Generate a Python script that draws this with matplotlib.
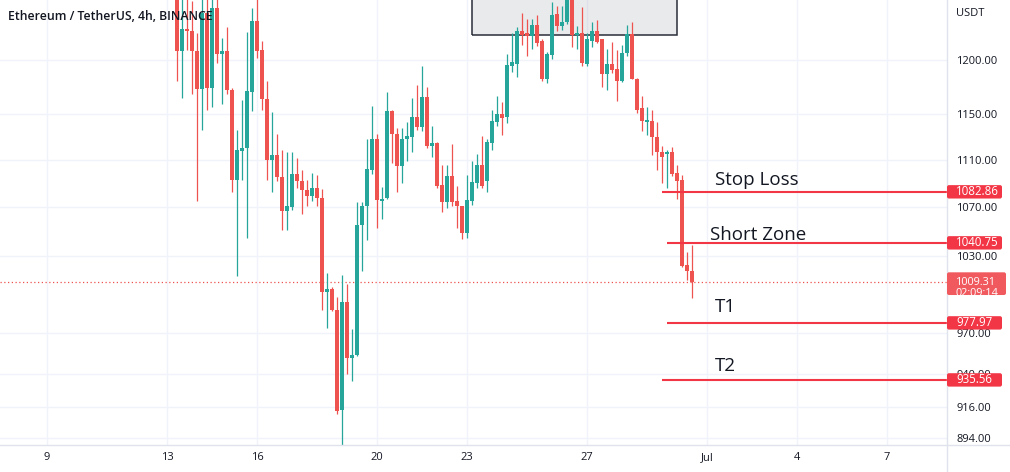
import matplotlib
import matplotlib.pyplot as plt
import matplotlib.patches as mpatches
from matplotlib.lines import Line2D
from matplotlib.ticker import NullLocator, NullFormatter
import numpy as np

# Use a non-GUI backend, we only save a png
matplotlib.use("agg")

# ETH/USDT 4h candles from Binance, first candle opens June 13 08:00
first_candle_day = 13 + 8 / 24
opens = [1268, 1208, 1229, 1227, 1208, 1173, 1244, 1174, 1249, 1205,
         1208, 1172, 1093, 1118, 1120, 1170, 1237, 1209, 1164, 1110,
         1114, 1095, 1067, 1070, 1098, 1092, 1084, 1079, 1086, 1078,
         1002, 1004, 988, 914, 994, 952, 954, 1055, 1071, 1101,
         1128, 1075, 1078, 1153, 1133, 1105, 1128, 1130, 1148, 1139,
         1166, 1122, 1125, 1089, 1074, 1096, 1075, 1071, 1049, 1075,
         1090, 1106, 1092, 1125, 1143, 1150, 1148, 1194, 1196, 1227,
         1225, 1222, 1233, 1218, 1182, 1204, 1243, 1232, 1236, 1262,
         1223, 1225, 1196, 1218, 1227, 1219, 1187, 1196, 1191, 1180,
         1206, 1224, 1182, 1156, 1143, 1144, 1130, 1117, 1115, 1117,
         1099, 1093, 1023, 1018]
highs = [1290, 1262, 1258, 1256, 1225, 1258, 1258, 1259, 1260, 1220,
         1231, 1174, 1136, 1163, 1226, 1249, 1262, 1218, 1180, 1152,
         1133, 1119, 1117, 1117, 1112, 1101, 1093, 1099, 1097, 1085,
         1017, 1006, 998, 1015, 1008, 973, 1074, 1074, 1128, 1158,
         1133, 1087, 1170, 1154, 1138, 1138, 1143, 1165, 1177, 1194,
         1175, 1140, 1126, 1106, 1106, 1124, 1088, 1071, 1097, 1109,
         1115, 1131, 1128, 1154, 1167, 1161, 1205, 1225, 1231, 1244,
         1239, 1239, 1242, 1219, 1207, 1255, 1251, 1251, 1280, 1272,
         1232, 1250, 1225, 1236, 1238, 1219, 1210, 1217, 1209, 1214,
         1233, 1236, 1183, 1167, 1157, 1154, 1143, 1122, 1119, 1121,
         1106, 1097, 1033, 1039]
lows = [1180, 1165, 1209, 1168, 1075, 1136, 1154, 1157, 1197, 1159,
        1168, 1083, 1014, 1093, 1045, 1153, 1202, 1154, 1093, 1083,
        1092, 1051, 1051, 1068, 1086, 1064, 1071, 1075, 1071, 988,
        974, 987, 911, 881, 940, 935, 953, 1018, 1043, 1098,
        1053, 1060, 1077, 1107, 1083, 1090, 1109, 1117, 1136, 1135,
        1120, 1113, 1086, 1066, 1069, 1071, 1053, 1044, 1045, 1072,
        1086, 1086, 1083, 1119, 1140, 1132, 1142, 1189, 1184, 1214,
        1203, 1210, 1213, 1180, 1178, 1201, 1227, 1228, 1234, 1212,
        1210, 1194, 1194, 1212, 1216, 1175, 1172, 1188, 1162, 1179,
        1203, 1182, 1151, 1135, 1132, 1114, 1101, 1090, 1086, 1096,
        1077, 1021, 1011, 997]
closes = [1208, 1229, 1227, 1208, 1173, 1244, 1174, 1249, 1205, 1208,
          1172, 1093, 1119, 1120, 1171, 1237, 1208, 1164, 1110, 1114,
          1095, 1067, 1071, 1098, 1092, 1084, 1079, 1086, 1078, 1002,
          1004, 988, 913, 994, 952, 954, 1055, 1071, 1102, 1128,
          1076, 1077, 1153, 1133, 1105, 1128, 1131, 1148, 1139, 1166,
          1122, 1125, 1088, 1074, 1096, 1074, 1071, 1049, 1076, 1091,
          1106, 1088, 1126, 1144, 1150, 1147, 1195, 1198, 1227, 1223,
          1222, 1233, 1216, 1182, 1205, 1242, 1232, 1236, 1262, 1223,
          1225, 1197, 1219, 1227, 1217, 1187, 1196, 1190, 1180, 1206,
          1224, 1182, 1154, 1144, 1145, 1130, 1117, 1113, 1117, 1098,
          1092, 1022, 1018, 1009.31]

countdown = "02:09:14"

# drawn levels
levels = [1082.86, 1040.75, 977.97, 935.56]
level_names = ["Stop Loss", "Short Zone", "T1", "T2"]
level_starts = [29.5, 29.667, 29.667, 29.5]
label_days = [31.27, 31.1, 31.27, 31.27]
label_lift = [5, 2, 8, 6.3]  # points above the line

# grey box on the top
box_days = (23.1667, 30.0)
box_bottom = 1223.7

price_ticks = [1200, 1150, 1110, 1070, 1030, 970, 940, 916, 894]
day_ticks = [9, 13, 16, 20, 23, 27, 31, 34, 37]
day_labels = ["9", "13", "16", "20", "23", "27", "Jul", "4", "7"]

GREEN = "#26a69a"
RED = "#ef5350"
LINE_RED = "#f23645"
TEXT = "#131722"
FONT = ["Open Sans", "DejaVu Sans"]

plt.rcParams["font.family"] = FONT

W, H = 1010, 472
fig = plt.figure(figsize=(W / 100, H / 100), dpi=100)
fig.patch.set_facecolor("white")
ax = fig.add_axes([0, 27 / H, 947 / W, 445 / H])

ax.set_yscale("log")
ax.set_ylim(889.4, 1257)
ax.set_xlim(7.433, 39.0)

# candles
o = np.array(opens, dtype=float)
c = np.array(closes, dtype=float)
x = first_candle_day + np.arange(len(o)) / 6
colors = np.where(c >= o, GREEN, RED)
ax.vlines(x, lows, highs, colors=colors, lw=0.9, zorder=3)
ax.bar(x, np.maximum(np.abs(c - o), 1.2), bottom=np.minimum(o, c), width=0.12,
       color=colors, linewidth=0, zorder=4)

# rectangle drawing
ax.add_patch(mpatches.Rectangle((box_days[0], box_bottom), box_days[1] - box_days[0],
                                1400 - box_bottom, fc="#9598a1", alpha=0.2, ec="none", zorder=1))
ax.add_patch(mpatches.Rectangle((box_days[0], box_bottom), box_days[1] - box_days[0],
                                1400 - box_bottom, fill=False, ec="#2a2e39", lw=1.1, zorder=2))

# current price dotted line
ax.axhline(closes[-1], color=RED, lw=0.9, ls=(0, (1, 2)), zorder=2)

# level lines and labels
for lvl, name, start, lx, lift in zip(levels, level_names, level_starts, label_days, label_lift):
    ax.hlines(lvl, start, 39.0, color=LINE_RED, lw=1.5, zorder=5)
    ax.annotate(name, xy=(lx, lvl), xytext=(0, lift), textcoords="offset points",
                va="baseline", ha="left", fontsize=13.5, color=TEXT, zorder=6)

# axes look
for s in ax.spines.values():
    s.set_visible(False)
ax.set_axisbelow(True)
ax.grid(color="#f0f3fa", lw=1)
ax.yaxis.tick_right()
ax.set_yticks(price_ticks)
ax.set_yticklabels([f"{t:.2f}" for t in price_ticks])
ax.yaxis.set_minor_locator(NullLocator())
ax.yaxis.set_minor_formatter(NullFormatter())
ax.set_xticks(day_ticks)
ax.set_xticklabels(day_labels)
ax.tick_params(axis="y", length=0, pad=6.5, labelsize=8, labelcolor=TEXT)
ax.tick_params(axis="x", length=0, pad=5, labelsize=8, labelcolor=TEXT)

fig.add_artist(Line2D([0, 1], [27 / H, 27 / H], transform=fig.transFigure, color="#e0e3eb", lw=1))
fig.add_artist(Line2D([947 / W, 947 / W], [0, 1], transform=fig.transFigure, color="#e0e3eb", lw=1))

fig.text(8 / W, 1 - 16 / H, "Ethereum / TetherUS, 4h, BINANCE", fontsize=8.8,
         fontweight="semibold", color=TEXT, va="center", ha="left", zorder=7)
fig.text(956 / W, 1 - 14 / H, "USDT", fontsize=8, color=TEXT, va="center", ha="left")


def tag_y(price):
    # inches from the bottom of the figure for a price
    return ax.transData.transform((0, price))[1] / fig.dpi


def price_tag(price, color, lines, up=0.067, down=0.067, width=0.55, size=8.3, step=0.11):
    y = tag_y(price)
    box = mpatches.FancyBboxPatch((9.47, y - down), width, up + down,
                                  boxstyle="round,pad=0,rounding_size=0.02",
                                  transform=fig.dpi_scale_trans, fc=color, ec="none", zorder=8)
    fig.add_artist(box)
    for i, txt in enumerate(lines):
        fig.text(9.56, y - i * step, txt, transform=fig.dpi_scale_trans, fontsize=size,
                 color="white", va="center", ha="left", zorder=9)


for lvl in levels:
    price_tag(lvl, LINE_RED, [f"{lvl:.2f}"])
price_tag(closes[-1], "#f05a5f", [f"{closes[-1]:.2f}", countdown],
          up=0.10, down=0.127, width=0.59, size=7.8, step=0.11)

fig.savefig("out.png", dpi=100)
